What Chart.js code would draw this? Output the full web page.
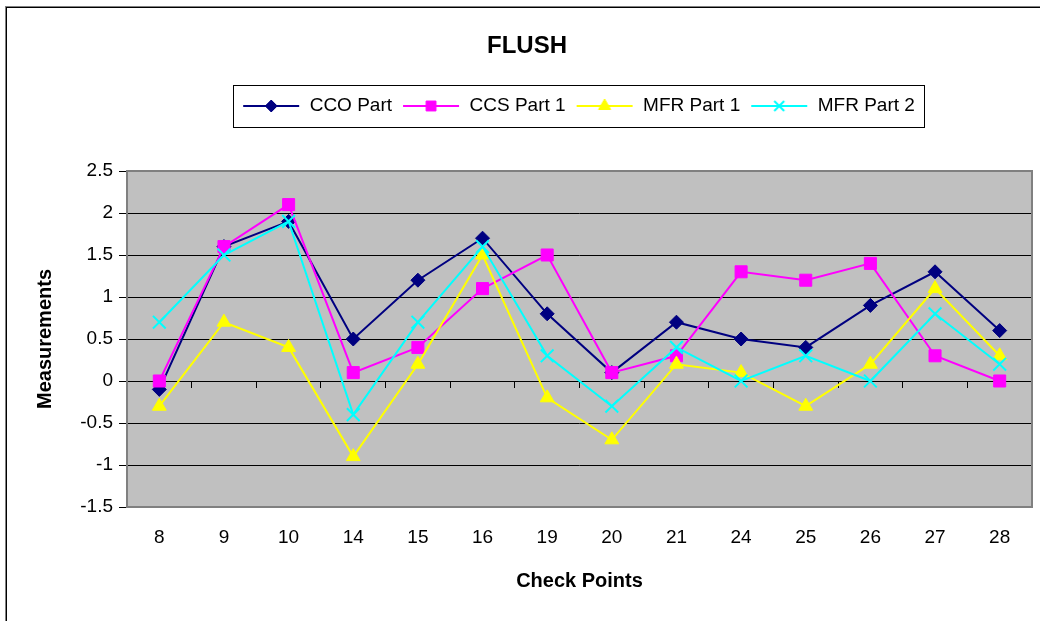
<!DOCTYPE html>
<html>
<head>
<meta charset="utf-8">
<title>FLUSH</title>
<script src="https://cdn.jsdelivr.net/npm/chart.js@4.4.0/dist/chart.umd.min.js"></script>
<style>
  html, body { margin: 0; padding: 0; background: #fff; }
  canvas { display: block; }
</style>
</head>
<body>
<canvas id="mainChart" width="1040" height="621"></canvas>
<script>
// check points on the x axis
var checkPoints = ['8', '9', '10', '14', '15', '16', '19', '20', '21', '24', '25', '26', '27', '28'];

// measurements per series
var ccoPart  = [-0.1, 1.6, 1.9, 0.5, 1.2, 1.7, 0.8, 0.1, 0.7, 0.5, 0.4, 0.9, 1.3, 0.6];
var ccsPart1 = [0, 1.6, 2.1, 0.1, 0.4, 1.1, 1.5, 0.1, 0.3, 1.3, 1.2, 1.4, 0.3, 0];
var mfrPart1 = [-0.3, 0.7, 0.4, -0.9, 0.2, 1.5, -0.2, -0.7, 0.2, 0.1, -0.3, 0.2, 1.1, 0.3];
var mfrPart2 = [0.7, 1.5, 1.9, -0.4, 0.7, 1.6, 0.3, -0.3, 0.4, 0, 0.3, 0, 0.8, 0.2];

var seriesNames = ['CCO Part', 'CCS Part 1', 'MFR Part 1', 'MFR Part 2'];
var seriesData = [ccoPart, ccsPart1, mfrPart1, mfrPart2];

// y axis range
var yMin = -1.5;
var yMax = 2.5;
var yStep = 0.5;

var colors = ['#000080', '#ff00ff', '#ffff00', '#00ffff'];
var markers = ['rectRot', 'rect', 'triangle', 'crossRot'];
var markerSize = [7, 8.5, 8, 9];
var legendMarkerSize = [6, 7, 7, 7];

var fontFamily = '"Liberation Sans", Arial, sans-serif';
Chart.defaults.font.family = fontFamily;
Chart.defaults.color = '#000';

// small line + marker icons for the legend (excel style)
function makeIcon(i) {
  var cv = document.createElement('canvas');
  cv.width = 62;
  cv.height = 20;
  var c = cv.getContext('2d');
  c.strokeStyle = colors[i];
  c.fillStyle = colors[i];
  c.lineWidth = 2;
  c.beginPath();
  c.moveTo(2, 10);
  c.lineTo(58, 10);
  c.stroke();
  c.lineWidth = markers[i] == 'crossRot' ? 2 : 1;
  Chart.helpers.drawPoint(c, {
    pointStyle: markers[i],
    rotation: 0,
    radius: legendMarkerSize[i],
    borderWidth: c.lineWidth
  }, 30, 10);
  return cv;
}
var icons = [0, 1, 2, 3].map(makeIcon);

var datasets = [];
for (var i = 0; i < seriesNames.length; i++) {
  datasets.push({
    label: seriesNames[i],
    data: seriesData[i],
    borderColor: colors[i],
    backgroundColor: colors[i],
    borderWidth: 2,
    fill: false,
    lineTension: 0,
    pointStyle: markers[i],
    radius: markerSize[i],
    hoverRadius: markerSize[i],
    pointBorderWidth: markers[i] == 'crossRot' ? 2 : 1,
    order: seriesNames.length - i
  });
}

var framePlugin = {
  id: 'frame',
  beforeDraw: function(chart) {
    var c = chart.ctx, a = chart.chartArea;
    c.save();
    c.fillStyle = '#fff';
    c.fillRect(0, 0, chart.width, chart.height);
    c.strokeStyle = '#808080';
    c.lineWidth = 1;
    c.strokeRect(5.5, 6.5, chart.width + 20, chart.height + 20);
    c.strokeStyle = '#000';
    c.strokeRect(6.5, 7.5, chart.width + 20, chart.height + 20);
    c.fillStyle = '#c0c0c0';
    c.fillRect(a.left, a.top, a.right - a.left, a.bottom - a.top);
    c.restore();
  },
  beforeDatasetsDraw: function(chart) {
    var c = chart.ctx, a = chart.chartArea;
    c.save();
    c.strokeStyle = '#808080';
    c.lineWidth = 2;
    c.strokeRect(a.left, a.top, a.right - a.left, a.bottom - a.top);
    c.restore();
  },
  afterDraw: function(chart) {
    var hb = chart.legend.legendHitBoxes;
    if (!hb || !hb.length) return;
    var l = Infinity, r = -Infinity;
    hb.forEach(function(b) {
      l = Math.min(l, b.left);
      r = Math.max(r, b.left + b.width);
    });
    var t = hb[0].top, bt = hb[0].top + hb[0].height;
    var c = chart.ctx;
    c.save();
    c.strokeStyle = '#000';
    c.lineWidth = 1;
    c.strokeRect(Math.round(l - 11) + 0.5, Math.round(t - 12) + 0.5,
                 Math.round(r - l + 20), Math.round(bt - t + 23));
    c.restore();
  }
};

function noSidePadding(scale) {
  scale.paddingLeft = 0;
  scale.paddingRight = 0;
}

var myChart = new Chart(document.getElementById('mainChart'), {
  type: 'line',
  data: {
    labels: checkPoints,
    datasets: datasets
  },
  options: {
    responsive: false,
    animation: false,
    layout: { autoPadding: false, padding: { left: 22, right: 8, top: 7, bottom: 0 } },
    plugins: {
      tooltip: { enabled: false },
      title: {
        display: true,
        text: 'FLUSH',
        color: '#000',
        font: { size: 24, weight: 'bold', lineHeight: 1.2 },
        padding: { top: 25, bottom: 23.7 }
      },
      subtitle: {
        display: true,
        text: '',
        font: { size: 10, lineHeight: 1 },
        padding: { top: 35.5, bottom: 0 }
      },
      legend: {
        position: 'top',
        fullSize: false,
        weight: 1800,
        labels: {
          color: '#000',
          font: { size: 19 },
          usePointStyle: true,
          pointStyleWidth: 56,
          padding: 12,
          sort: function(a, b) { return a.datasetIndex - b.datasetIndex; },
          generateLabels: function(chart) {
            var items = Chart.defaults.plugins.legend.labels.generateLabels(chart);
            items.forEach(function(it) { it.pointStyle = icons[it.datasetIndex]; });
            return items;
          }
        }
      }
    },
    scales: {
      x: {
        type: 'category',
        offset: true,
        grid: { display: false, drawTicks: false },
        border: { display: false },
        ticks: { font: { size: 19 }, color: '#000', padding: 19, maxRotation: 0, autoSkip: false },
        title: {
          display: true,
          text: 'Check Points',
          color: '#000',
          font: { size: 20, weight: 'bold', lineHeight: 1.2 },
          padding: { top: 0, bottom: 28 }
        },
        afterFit: function(scale) { scale.height = 114; noSidePadding(scale); }
      },
      x2: {
        type: 'category',
        offset: true,
        position: { y: 0 },
        grid: { drawOnChartArea: false, drawTicks: true, tickLength: 6, offset: true, tickColor: '#000' },
        border: { display: true, color: '#000', width: 1 },
        ticks: { display: false },
        afterFit: noSidePadding
      },
      y: {
        min: yMin,
        max: yMax,
        ticks: {
          stepSize: yStep,
          font: { size: 19 },
          color: '#000',
          padding: 6,
          callback: function(v) { return String(Math.round(v * 10) / 10); }
        },
        grid: { color: '#000', tickColor: '#000', tickLength: 8 },
        border: { display: false },
        title: {
          display: true,
          text: 'Measurements',
          color: '#000',
          font: { size: 20, weight: 'bold', lineHeight: 1.2 },
          padding: { top: 11, bottom: 0 }
        },
        afterFit: function(scale) { scale.width = 105; }
      }
    }
  },
  plugins: [framePlugin]
});
</script>
</body>
</html>
